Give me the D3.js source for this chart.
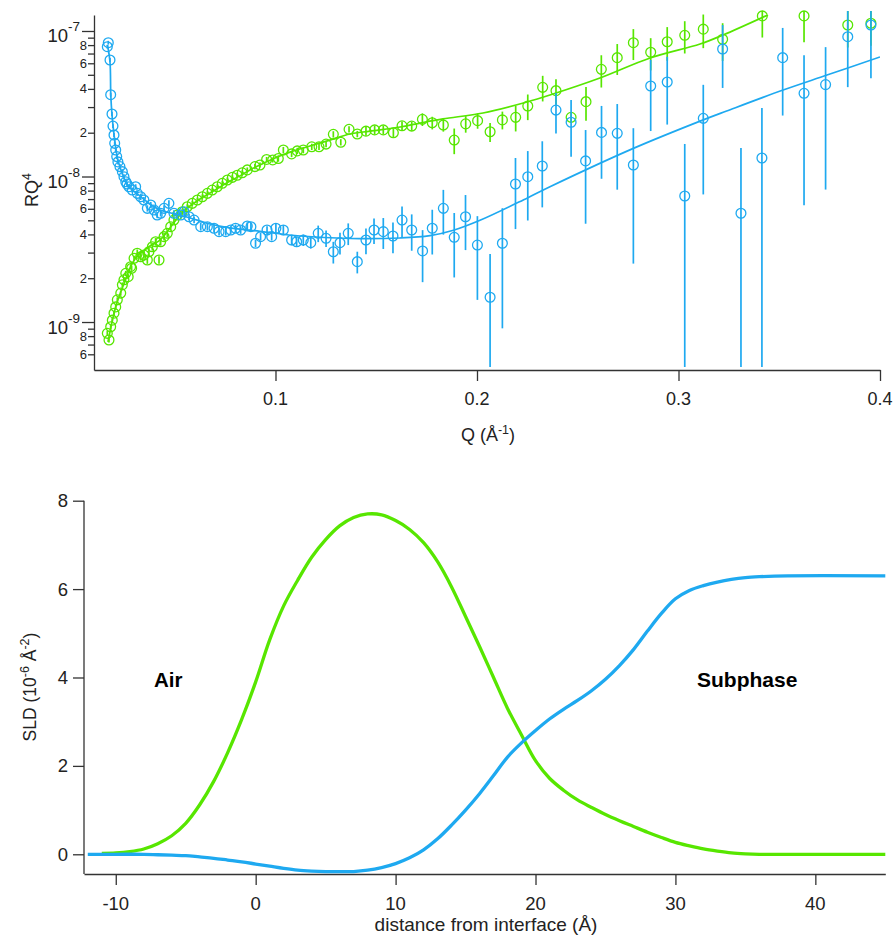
<!DOCTYPE html>
<html><head><meta charset="utf-8">
<script src="https://cdn.jsdelivr.net/npm/d3@7"></script>
<style>
body{margin:0;background:#fff}
svg{display:block}
text{font-family:"Liberation Sans",Arial,sans-serif;fill:#222}
</style>
</head><body>
<svg id="c" width="896" height="937"></svg>
<script>
// ---------------- Reflectivity (top) data ----------------
const blueQ = [0.01653,0.01702,0.01787,0.01821,0.01886,0.01935,0.01985,0.0202,0.0207,0.0212,0.0218,0.0228,0.0240,0.0248,0.0257,0.0263,0.0273,0.0289,0.0306,0.0314,
0.0331,0.0347,0.0364,0.0381,0.0397,0.0413,0.0430,0.0447,0.0471,0.0496,0.0530,0.0546,0.0571,0.0596,0.0629,0.0662,0.0695,0.0720,0.0753,0.0778,
0.0802,0.0827,0.0860,0.0878,0.0901,0.0926,0.0958,0.0981,0.1002,0.1039,0.1080,0.1105,0.1138,0.1175,0.1212,0.1251,0.1287,0.1320,0.1361,0.1406,
0.1449,0.1489,0.1535,0.1583,0.1628,0.1676,0.1730,0.1778,0.1833,0.1887,0.1943,0.2002,0.2065,0.2126,0.2191,0.2252,0.2324,0.2392,0.2467,0.2539,
0.2618,0.2696,0.2776,0.2862,0.2944,0.3031,0.3123,0.3219,0.3310,0.3414,0.3517,0.3623,0.3730,0.3840,0.3955];
const blueR = [7.80e-8,8.31e-8,6.32e-8,3.65e-8,2.69e-8,2.22e-8,1.93e-8,1.69e-8,1.52e-8,1.37e-8,1.26e-8,1.17e-8,1.08e-8,9.97e-9,9.21e-9,8.88e-9,8.51e-9,8.07e-9,8.51e-9,7.66e-9,
7.26e-9,6.89e-9,6.04e-9,6.37e-9,5.89e-9,5.44e-9,5.59e-9,6.04e-9,6.54e-9,5.59e-9,5.44e-9,5.73e-9,5.29e-9,5.02e-9,4.52e-9,4.52e-9,4.41e-9,4.18e-9,4.18e-9,4.29e-9,
4.41e-9,4.29e-9,4.57e-9,4.52e-9,3.48e-9,3.86e-9,4.29e-9,3.86e-9,4.41e-9,4.29e-9,3.66e-9,3.56e-9,3.66e-9,3.51e-9,4.07e-9,3.76e-9,3.04e-9,3.51e-9,4.07e-9,2.60e-9,
3.66e-9,4.29e-9,4.18e-9,3.90e-9,5.02e-9,4.29e-9,3.08e-9,4.41e-9,6.04e-9,3.82e-9,5.29e-9,3.38e-9,1.48e-9,3.48e-9,8.88e-9,9.97e-9,1.18e-8,2.86e-8,2.36e-8,1.28e-8,
2.01e-8,1.98e-8,1.20e-8,4.19e-8,4.46e-8,7.34e-9,2.51e-8,7.52e-8,5.59e-9,1.34e-8,6.56e-8,3.73e-8,4.28e-8,9.14e-8,1.10e-7];
const blueErr = [0.03,0.03,0.03,0.03,0.03,0.03,0.03,0.03,0.04,0.04,0.04,0.04,0.04,0.04,0.04,0.04,0.04,0.04,0.04,0.04,
0.05,0.05,0.05,0.05,0.05,0.05,0.05,0.05,0.05,0.05,0.05,0.05,0.05,0.05,0.06,0.06,0.06,0.06,0.06,0.06,
0.06,0.06,0.06,0.06,0.06,0.06,0.06,0.06,0.08,0.08,0.08,0.08,0.09,0.09,0.13,0.13,0.17,0.17,0.17,0.17,
0.2,0.2,0.24,0.24,0.24,0.28,0.39,0.34,0.34,0.47,0.41,0.58,0.98,0.74,0.51,0.5,0.48,0.31,0.42,0.63,
0.52,0.59,0.79,0.51,0.49,1.28,0.7,0.46,1.81,1.21,0.6,0.83,0.81,0.55,0.57];

const greenQ = [0.01653,0.01737,0.01821,0.01901,0.01985,0.0207,0.0215,0.0232,0.0240,0.0248,0.0257,0.0269,0.0281,0.0286,0.0298,0.0314,0.0331,0.0347,0.0364,0.0372,
0.0389,0.0405,0.0422,0.0430,0.0447,0.0463,0.0480,0.0496,0.0513,0.0537,0.0562,0.0587,0.0612,0.0637,0.0662,0.0686,0.0711,0.0736,0.0761,0.0786,
0.0810,0.0835,0.0860,0.0898,0.0923,0.0956,0.0986,0.1014,0.1039,0.1080,0.1108,0.1138,0.1180,0.1216,0.1251,0.1287,0.1324,0.1365,0.1406,0.1449,
0.1492,0.1535,0.1585,0.1628,0.1676,0.1729,0.1778,0.1833,0.1887,0.1944,0.2003,0.2065,0.2126,0.2192,0.2252,0.2326,0.2392,0.2467,0.2541,0.2617,
0.2696,0.2776,0.2862,0.2944,0.3031,0.3123,0.3219,0.3416,0.3623,0.3840,0.3955];
const greenR = [8.36e-10,7.52e-10,9.28e-10,1.03e-9,1.15e-9,1.27e-9,1.42e-9,1.58e-9,1.80e-9,1.95e-9,2.16e-9,2.05e-9,2.40e-9,2.34e-9,2.74e-9,2.97e-9,2.81e-9,2.89e-9,2.67e-9,3.04e-9,
3.29e-9,3.56e-9,2.67e-9,3.56e-9,3.86e-9,4.07e-9,4.52e-9,5.02e-9,5.44e-9,5.73e-9,6.20e-9,6.54e-9,6.89e-9,7.26e-9,7.66e-9,8.07e-9,8.51e-9,8.98e-9,9.46e-9,9.87e-9,
1.02e-8,1.06e-8,1.11e-8,1.17e-8,1.20e-8,1.31e-8,1.30e-8,1.33e-8,1.52e-8,1.43e-8,1.50e-8,1.52e-8,1.60e-8,1.60e-8,1.67e-8,1.95e-8,1.72e-8,2.11e-8,1.96e-8,2.05e-8,
2.09e-8,2.09e-8,2.00e-8,2.23e-8,2.22e-8,2.47e-8,2.34e-8,2.26e-8,1.78e-8,2.30e-8,2.42e-8,2.03e-8,2.45e-8,2.55e-8,3.05e-8,4.10e-8,3.89e-8,2.55e-8,3.27e-8,5.45e-8,
6.56e-8,8.31e-8,7.14e-8,8.44e-8,9.34e-8,1.03e-7,8.77e-8,1.27e-7,1.27e-7,1.10e-7,1.13e-7];
const greenErr = [0.04,0.04,0.04,0.04,0.04,0.04,0.04,0.04,0.04,0.04,0.04,0.04,0.04,0.04,0.04,0.06,0.06,0.06,0.06,0.06,
0.06,0.06,0.06,0.06,0.06,0.06,0.06,0.06,0.04,0.04,0.04,0.04,0.04,0.04,0.04,0.04,0.04,0.04,0.04,0.04,
0.04,0.04,0.04,0.04,0.04,0.04,0.04,0.05,0.05,0.05,0.05,0.05,0.05,0.05,0.05,0.05,0.05,0.05,0.05,0.07,
0.07,0.07,0.07,0.07,0.07,0.1,0.1,0.1,0.2,0.13,0.12,0.15,0.14,0.2,0.2,0.2,0.2,0.08,0.26,0.25,
0.24,0.24,0.25,0.26,0.25,0.26,0.29,0.29,0.34,0.3,0.3];

const blueFitQ = [0.01663,0.01787,0.01826,0.01886,0.0196,0.0206,0.0218,0.0233,0.0253,0.0278,0.0328,0.0377,0.0427,0.0501,0.0576,0.0675,0.0774,0.0923,0.1122,0.1370,0.1618,0.1767,0.1883,0.2015,0.2248,0.2362,0.2776,0.3123,0.3239,0.3519,0.3737,0.4];
const blueFitR = [8.01e-8,6.12e-8,3.63e-8,2.65e-8,2.09e-8,1.62e-8,1.30e-8,1.11e-8,9.46e-9,8.34e-9,7.34e-9,6.47e-9,5.89e-9,5.53e-9,5.19e-9,4.72e-9,4.43e-9,4.20e-9,3.90e-9,3.75e-9,3.78e-9,3.92e-9,4.27e-9,5.0e-9,7.1e-9,8.5e-9,1.56e-8,2.45e-8,2.82e-8,3.93e-8,4.98e-8,6.63e-8];
const greenFitQ = [0.01687,0.01886,0.02084,0.02283,0.02531,0.02779,0.03027,0.03275,0.03524,0.03772,0.04268,0.04764,0.05261,0.05757,0.06253,0.06749,0.07246,0.07742,0.08238,0.08734,0.09231,0.09975,0.1072,0.1171,0.1270,0.1370,0.1469,0.1618,0.1717,0.1831,0.2030,0.2248,0.2362,0.2610,0.2859,0.3107,0.3221,0.3444];
const greenFitR = [7.29e-10,1.0e-9,1.29e-9,1.56e-9,1.91e-9,2.35e-9,2.71e-9,2.98e-9,3.13e-9,3.33e-9,3.66e-9,4.43e-9,5.44e-9,6.27e-9,7.0e-9,7.70e-9,8.47e-9,9.31e-9,1.01e-8,1.11e-8,1.20e-8,1.34e-8,1.47e-8,1.62e-8,1.78e-8,1.96e-8,2.05e-8,2.19e-8,2.33e-8,2.49e-8,2.73e-8,3.25e-8,3.63e-8,4.75e-8,6.52e-8,8.14e-8,9.39e-8,1.29e-7];

const qTicks = [0.1,0.2,0.3,0.4];
const decadeExps = [-7,-8,-9];
const minorMults = [2,3,4,5,6,7,8,9];
const labeledMults = [2,4,6,8];

// ---------------- SLD profile (bottom) data ----------------
const zGreen = [-11,-10,-9,-8,-7,-6,-5,-4,-3,-2,-1,0,1,2,3,4,5,6,7,8,9,10,11,12,13,14,15,16,17,18,19,20,21,22,23,24,25,26,27,28,29,30,31,32,33,34,35,36,40,45];
const sldGreen = [0.02,0.03,0.06,0.12,0.24,0.42,0.70,1.12,1.65,2.30,3.05,3.90,4.85,5.62,6.20,6.72,7.12,7.43,7.62,7.70,7.68,7.55,7.35,7.05,6.62,6.05,5.38,4.70,4.00,3.30,2.70,2.12,1.72,1.45,1.23,1.06,0.90,0.76,0.63,0.50,0.38,0.27,0.19,0.12,0.07,0.03,0.01,0,0,0];
const zBlue = [-12,-10,-8,-7,-6,-5,-4,-3,-2,-1,0,1,2,3,4,5,6,7,8,9,10,11,12,13,14,15,16,17,18,19,20,21,22,23,24,25,26,27,28,29,30,31,32,33,34,35,36,38,45];
const sldBlue = [0,0,0,-0.01,-0.02,-0.03,-0.06,-0.09,-0.13,-0.17,-0.22,-0.27,-0.32,-0.36,-0.38,-0.39,-0.39,-0.39,-0.36,-0.30,-0.21,-0.08,0.10,0.35,0.66,1.00,1.37,1.78,2.20,2.52,2.80,3.06,3.28,3.48,3.70,3.96,4.27,4.63,5.05,5.45,5.78,5.97,6.08,6.16,6.22,6.26,6.28,6.30,6.30];
const zTicks = [-10,0,10,20,30,40];
const sldTicks = [0,2,4,6,8];

const GREEN = "#57e600", BLUE = "#1ea9f0", AXIS = "#333";

const svg = d3.select("#c");
const defs = svg.append("defs");
defs.append("clipPath").attr("id","clipTop").append("rect").attr("x",94).attr("y",15).attr("width",786).attr("height",355);

// ================= TOP CHART =================
const xT = d3.scaleLinear().domain([0.00993,0.4]).range([94,880]);
const yT = d3.scaleLog().domain([4.68e-10,1.288e-7]).range([370,15]);

const gTop = svg.append("g");
const xAxT = d3.axisBottom(xT).tickValues(qTicks).tickSize(11).tickSizeOuter(0).tickFormat("");
const gxT = gTop.append("g").attr("transform","translate(0,370)").call(xAxT);
const majorVals = decadeExps.map(e=>Math.pow(10,e));
const minorVals = [];
decadeExps.concat([-10]).forEach(e=>minorMults.forEach(m=>{const v=m*Math.pow(10,e); if(v>=6e-10 && v<=yT.domain()[1]) minorVals.push(v);}));
const yAxT = d3.axisLeft(yT).tickValues(majorVals).tickSize(12).tickSizeOuter(0).tickFormat("");
const gyT = gTop.append("g").attr("transform","translate(94,0)").call(yAxT);
const yAxTm = d3.axisLeft(yT).tickValues(minorVals).tickSize(6).tickSizeOuter(0).tickFormat("");
const gyTm = gTop.append("g").attr("transform","translate(94,0)").call(yAxTm);
gyTm.select(".domain").remove();
[gxT,gyT,gyTm].forEach(g=>{g.selectAll("path,line").attr("stroke",AXIS).attr("stroke-width",1.3);});

gTop.selectAll(".qlab").data(qTicks).join("text").attr("x",d=>xT(d)).attr("y",405)
  .attr("text-anchor","middle").attr("font-size",18).text(d=>d3.format(".1f")(d));
majorVals.forEach((v,i)=>{
  const y = yT(v);
  gTop.append("text").attr("x",68).attr("y",y+11.5).attr("text-anchor","end").attr("font-size",18.5).text("10");
  gTop.append("text").attr("x",68).attr("y",y+0.5).attr("text-anchor","start").attr("font-size",13.5).text(String(decadeExps[i]));
});
function mantissa(v){return Math.round(v/Math.pow(10,Math.floor(Math.log10(v)+1e-9)));}
minorVals.filter(v=>labeledMults.includes(mantissa(v))).forEach(v=>{
  gTop.append("text").attr("x",87).attr("y",yT(v)+4.6).attr("text-anchor","end").attr("font-size",13).text(mantissa(v));
});
const qt = gTop.append("text").attr("x",488).attr("y",441).attr("text-anchor","middle").attr("font-size",18);
qt.append("tspan").text("Q (Å");
qt.append("tspan").attr("font-size",12.5).attr("dy",-7).text("-1");
qt.append("tspan").attr("dy",7).text(")");
const rt = gTop.append("text").attr("transform","translate(38,190) rotate(-90)").attr("text-anchor","middle").attr("font-size",18);
rt.append("tspan").text("RQ");
rt.append("tspan").attr("font-size",12.5).attr("dy",-7).text("4");

function drawSeries(qs, rs, errs, color){
  const pts = qs.map((q,i)=>({q, r:rs[i], e:errs[i]}));
  const g = gTop.append("g");
  g.selectAll("line").data(pts).join("line")
    .attr("x1",d=>xT(d.q)).attr("x2",d=>xT(d.q))
    .attr("y1",d=>Math.max(11, yT(d.r*(1+d.e))))
    .attr("y2",d=>{const lo=d.r*(1-d.e); return lo>0 ? Math.min(367, yT(lo)) : 367;})
    .attr("stroke",color).attr("stroke-width",1.7);
  g.selectAll("circle").data(pts).join("circle")
    .attr("cx",d=>xT(d.q)).attr("cy",d=>yT(d.r)).attr("r",4.9)
    .attr("fill","none").attr("stroke",color).attr("stroke-width",1.3);
}
function drawFit(qs, rs, color){
  const line = d3.line().x(d=>xT(d[0])).y(d=>yT(d[1])).curve(d3.curveCatmullRom.alpha(0.5));
  gTop.append("path").attr("clip-path","url(#clipTop)").attr("d",line(qs.map((q,i)=>[q,rs[i]])))
    .attr("fill","none").attr("stroke",color).attr("stroke-width",1.7);
}
drawSeries(greenQ, greenR, greenErr, GREEN);
drawFit(greenFitQ, greenFitR, GREEN);
drawSeries(blueQ, blueR, blueErr, BLUE);
drawFit(blueFitQ, blueFitR, BLUE);

// ================= BOTTOM CHART =================
const xB = d3.scaleLinear().domain([-12.27,45]).range([84,885.3]);
const yB = d3.scaleLinear().domain([-0.446,8]).range([874,500.7]);
const gBot = svg.append("g");
const gxB = gBot.append("g").attr("transform","translate(0,874)")
  .call(d3.axisBottom(xB).tickValues(zTicks).tickSize(11).tickSizeOuter(0).tickFormat(""));
const gyB = gBot.append("g").attr("transform","translate(84,0)")
  .call(d3.axisLeft(yB).tickValues(sldTicks).tickSize(11).tickSizeOuter(0).tickFormat(""));
gyB.select(".domain").attr("d",`M0,${yB(8)}V874`);
[gxB,gyB].forEach(g=>{g.selectAll("path,line").attr("stroke",AXIS).attr("stroke-width",1.3);});
gBot.selectAll(".zl").data(zTicks).join("text").attr("x",d=>xB(d)).attr("y",910)
  .attr("text-anchor","middle").attr("font-size",18.5).text(d=>d);
gBot.selectAll(".sl").data(sldTicks).join("text").attr("x",68).attr("y",d=>yB(d)+6.5)
  .attr("text-anchor","end").attr("font-size",18.5).text(d=>d);
gBot.append("text").attr("x",486).attr("y",931).attr("text-anchor","middle").attr("font-size",19)
  .text("distance from interface (Å)");
const st = gBot.append("text").attr("transform","translate(36,687) rotate(-90)").attr("text-anchor","middle").attr("font-size",17.5);
st.append("tspan").text("SLD (10");
st.append("tspan").attr("font-size",12.5).attr("dy",-7).text("-6");
st.append("tspan").attr("dy",7).text(" Å");
st.append("tspan").attr("font-size",12.5).attr("dy",-7).text("-2");
st.append("tspan").attr("dy",7).text(")");

const lineB = d3.line().x(d=>xB(d[0])).y(d=>yB(d[1])).curve(d3.curveCatmullRom.alpha(0.5));
gBot.append("path").attr("d",lineB(zGreen.map((z,i)=>[z,sldGreen[i]])))
  .attr("fill","none").attr("stroke",GREEN).attr("stroke-width",3.3);
gBot.append("path").attr("d",lineB(zBlue.map((z,i)=>[z,sldBlue[i]])))
  .attr("fill","none").attr("stroke",BLUE).attr("stroke-width",3.3);

gBot.append("text").attr("x",154).attr("y",687).attr("font-size",20.5).attr("font-weight","bold")
  .attr("font-family","Lato, 'Liberation Sans', sans-serif").style("fill","#000").text("Air");
gBot.append("text").attr("x",697).attr("y",687).attr("font-size",21).attr("font-weight","bold")
  .attr("font-family","Lato, 'Liberation Sans', sans-serif").style("fill","#000").text("Subphase");
</script>
</body></html>
